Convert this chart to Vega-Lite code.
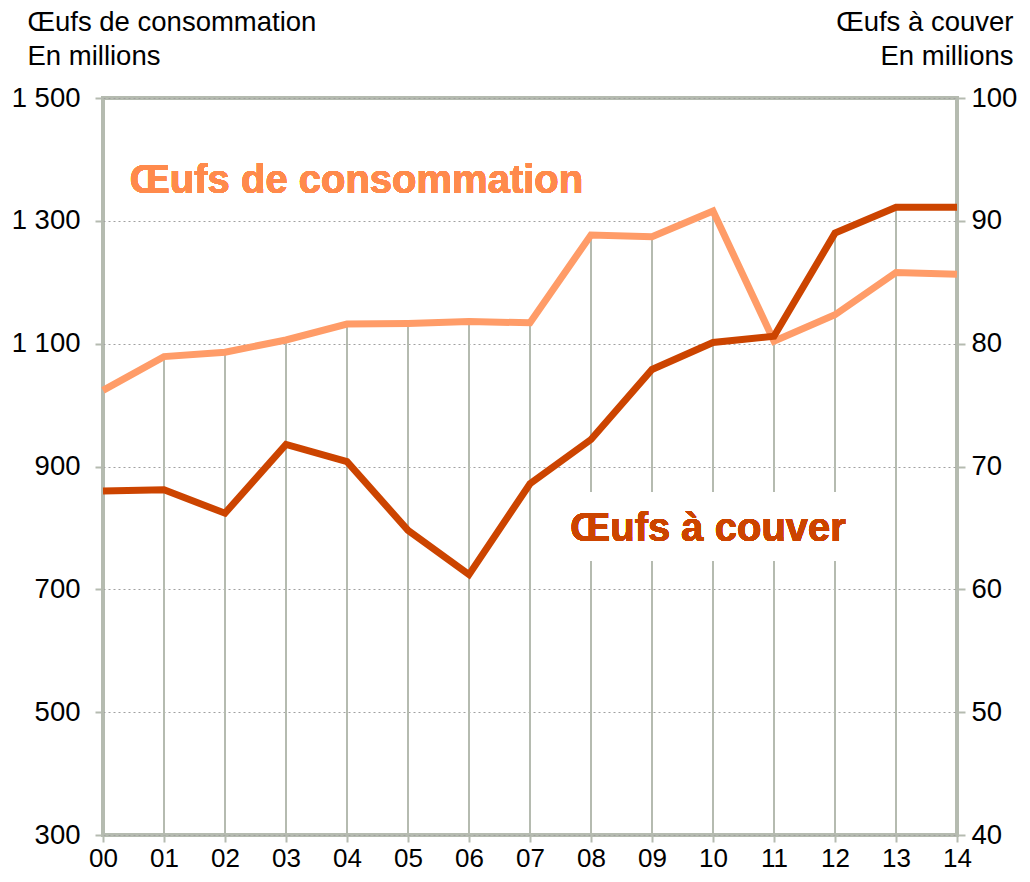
{
  "$schema": "https://vega.github.io/schema/vega-lite/v6.json",
  "width": 854,
  "height": 737,
  "autosize": {"type": "none"},
  "padding": {"left": 103, "top": 98, "right": 73, "bottom": 47},
  "background": "white",
  "config": {
    "font": "Liberation Sans",
    "view": {"stroke": "#b5bbb0", "strokeWidth": 4},
    "axis": {
      "labelFont": "Liberation Sans",
      "titleFont": "Liberation Sans",
      "labelFontSize": 27.5,
      "titleFontSize": 27.5,
      "titleFontWeight": "normal",
      "labelColor": "#000000",
      "titleColor": "#000000",
      "tickColor": "#b5bbb0",
      "tickWidth": 2,
      "domain": false
    }
  },
  "data": {
    "values": [
      {"year": 2000, "consommation": 1024, "couver": 68.0},
      {"year": 2001, "consommation": 1079, "couver": 68.1},
      {"year": 2002, "consommation": 1086, "couver": 66.2},
      {"year": 2003, "consommation": 1106, "couver": 71.8},
      {"year": 2004, "consommation": 1132, "couver": 70.4},
      {"year": 2005, "consommation": 1133, "couver": 64.8},
      {"year": 2006, "consommation": 1136, "couver": 61.2},
      {"year": 2007, "consommation": 1134, "couver": 68.6},
      {"year": 2008, "consommation": 1277, "couver": 72.2},
      {"year": 2009, "consommation": 1274, "couver": 77.9},
      {"year": 2010, "consommation": 1316, "couver": 80.1},
      {"year": 2011, "consommation": 1104, "couver": 80.6},
      {"year": 2012, "consommation": 1147, "couver": 89.0},
      {"year": 2013, "consommation": 1216, "couver": 91.1},
      {"year": 2014, "consommation": 1213, "couver": 91.1}
    ]
  },
  "encoding": {
    "x": {
      "field": "year",
      "type": "quantitative",
      "scale": {"domain": [2000, 2014], "nice": false, "zero": false},
      "axis": {
        "values": [2000, 2001, 2002, 2003, 2004, 2005, 2006, 2007, 2008, 2009, 2010, 2011, 2012, 2013, 2014],
        "format": "d",
        "labelExpr": "slice(datum.label, 2)",
        "grid": false,
        "tickSize": 7,
        "labelPadding": 3,
        "labelFontSize": 26,
        "labelFlush": false,
        "labelOverlap": false,
        "title": null
      }
    }
  },
  "layer": [
    {
      "mark": {"type": "rule", "color": "#b5bbb0", "strokeWidth": 2},
      "encoding": {
        "y": {"field": "consommation", "type": "quantitative", "scale": {"domain": [300, 1500], "nice": false, "zero": false}, "axis": null},
        "y2": {"datum": 300}
      }
    },
    {
      "mark": {"type": "rule", "color": "#b5bbb0", "strokeWidth": 2},
      "encoding": {
        "y": {"field": "couver", "type": "quantitative", "scale": {"domain": [40, 100], "nice": false, "zero": false}, "axis": null},
        "y2": {"datum": 40}
      }
    },
    {
      "mark": {"type": "rect", "fill": "white", "stroke": null},
      "encoding": {
        "x": {"datum": 2007.6, "type": "quantitative"},
        "x2": {"datum": 2012.4},
        "y": {"datum": 67.9, "type": "quantitative", "scale": {"domain": [40, 100], "nice": false, "zero": false}, "axis": null},
        "y2": {"datum": 62.3}
      }
    },
    {
      "mark": {"type": "line", "color": "#ff9c68", "strokeWidth": 7},
      "encoding": {
        "y": {
          "field": "consommation",
          "type": "quantitative",
          "scale": {"domain": [300, 1500], "nice": false, "zero": false},
          "axis": {
            "orient": "left",
            "values": [300, 500, 700, 900, 1100, 1300, 1500],
            "labelExpr": "replace(format(datum.value, ','), ',', ' ')",
            "grid": true,
            "gridColor": "#a0a0a0",
            "gridDash": [2, 3],
            "gridWidth": 1,
            "tickSize": 8,
            "labelPadding": 15,
            "title": ["Œufs de consommation", "En millions"],
            "titleAngle": 0,
            "titleAlign": "left",
            "titleBaseline": "alphabetic",
            "titleX": -76,
            "titleY": -68,
            "titleLineHeight": 34
          }
        }
      }
    },
    {
      "mark": {"type": "line", "color": "#cc4400", "strokeWidth": 7},
      "encoding": {
        "y": {
          "field": "couver",
          "type": "quantitative",
          "scale": {"domain": [40, 100], "nice": false, "zero": false},
          "axis": {
            "orient": "right",
            "values": [40, 50, 60, 70, 80, 90, 100],
            "grid": false,
            "tickSize": 8,
            "labelPadding": 6,
            "title": ["Œufs à couver", "En millions"],
            "titleAngle": 0,
            "titleAlign": "right",
            "titleBaseline": "alphabetic",
            "titleX": 56,
            "titleY": -68,
            "titleLineHeight": 34
          }
        }
      }
    },
    {
      "mark": {"type": "text", "text": "Œufs de consommation", "color": "#ff8a4c", "fontSize": 40, "fontWeight": "bold", "align": "left", "baseline": "alphabetic"},
      "encoding": {
        "x": {"datum": 2000.44, "type": "quantitative"},
        "y": {"datum": 1345, "type": "quantitative", "scale": {"domain": [300, 1500], "nice": false, "zero": false}, "axis": null}
      }
    },
    {
      "mark": {"type": "text", "text": "Œufs à couver", "color": "#cc4400", "fontSize": 40, "fontWeight": "bold", "align": "left", "baseline": "alphabetic"},
      "encoding": {
        "x": {"datum": 2007.66, "type": "quantitative"},
        "y": {"datum": 63.9, "type": "quantitative", "scale": {"domain": [40, 100], "nice": false, "zero": false}, "axis": null}
      }
    }
  ],
  "resolve": {"scale": {"y": "independent"}, "axis": {"y": "independent"}}
}
